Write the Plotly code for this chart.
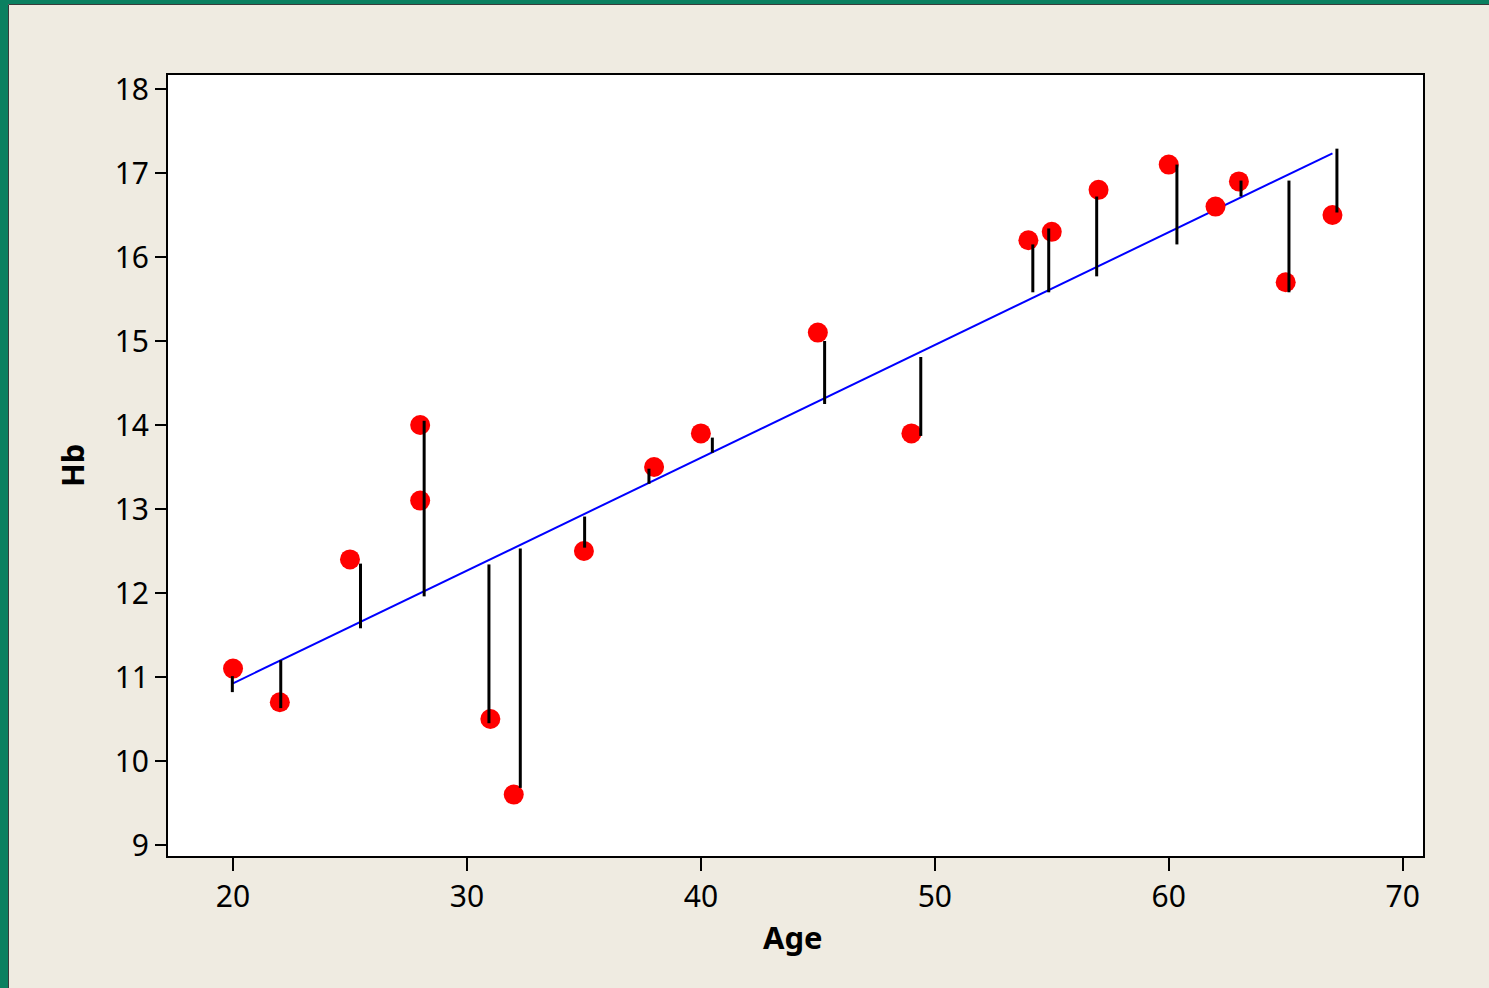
import numpy as np
import plotly.graph_objects as go

# Data
age = [20, 22, 25, 28, 28, 31, 32, 35, 38, 40, 45, 49, 54, 55, 57, 60, 62, 63, 65, 67]
hb = [11.1, 10.7, 12.4, 14.0, 13.1, 10.5, 9.6, 12.5, 13.5, 13.9, 15.1, 13.9,
      16.2, 16.3, 16.8, 17.1, 16.6, 16.9, 15.7, 16.5]

# Residual segments as drawn in the picture (x position, from, to)
res_x = [19.97, 22.04, 25.45, 28.17, 30.94, 32.28, 35.03, 37.78, 40.49, 45.29,
         49.40, 54.19, 54.87, 56.92, 60.35, 63.09, 65.14, 67.19]
res_y0 = [11.01, 11.20, 12.35, 14.05, 12.34, 12.53, 12.91, 13.48, 13.85, 15.00,
          14.81, 16.15, 16.34, 16.72, 17.10, 16.91, 16.91, 17.29]
res_y1 = [10.82, 10.63, 11.58, 11.96, 10.45, 9.68, 12.54, 13.30, 13.67, 14.25,
          13.87, 15.58, 15.58, 15.77, 16.15, 16.72, 15.58, 16.53]

x_ticks = [20, 30, 40, 50, 60, 70]
y_ticks = [9, 10, 11, 12, 13, 14, 15, 16, 17, 18]

slope, intercept = np.polyfit(age, hb, 1)
fit_x = [min(age), max(age)]
fit_y = [intercept + slope * v for v in fit_x]

seg_x, seg_y = [], []
for xv, a, b in zip(res_x, res_y0, res_y1):
    seg_x += [xv, xv, None]
    seg_y += [a, b, None]

fig = go.Figure()
fig.add_trace(go.Scatter(x=fit_x, y=fit_y, mode="lines",
                         line=dict(color="#0000FF", width=2), hoverinfo="skip"))
fig.add_trace(go.Scatter(x=age, y=hb, mode="markers",
                         marker=dict(color="#FF0000", size=20, line=dict(width=0))))
fig.add_trace(go.Scatter(x=seg_x, y=seg_y, mode="lines",
                         line=dict(color="#000000", width=3), hoverinfo="skip"))

W, H = 1489, 988
L, R, T, B = 168, 1423, 75, 856

def px(p):
    return (p - L) / (R - L)

def py(p):
    return (B - p) / (B - T)

font_family = "Noto Sans, Open Sans, DejaVu Sans, sans-serif"

fig.update_layout(
    width=W, height=H,
    margin=dict(l=L, r=W - R, t=T, b=H - B, pad=0),
    paper_bgcolor="#EFEBE1",
    plot_bgcolor="#FFFFFF",
    showlegend=False,
    font=dict(family=font_family, color="#000000", size=30),
    xaxis=dict(range=[17.22, 70.87], tickvals=x_ticks, ticks="outside", ticklen=13,
               tickwidth=2, tickcolor="#000", showgrid=False, zeroline=False,
               showline=True, linecolor="#000", linewidth=2, mirror=True,
               tickfont=dict(size=30)),
    yaxis=dict(range=[8.869, 18.167], tickvals=y_ticks, ticks="outside", ticklen=11,
               tickwidth=2, tickcolor="#000", showgrid=False, zeroline=False,
               showline=True, linecolor="#000", linewidth=2, mirror=True,
               tickfont=dict(size=30)),
    annotations=[
        dict(text="<b>Age</b>", x=px(793), y=py(937), xref="paper", yref="paper",
             xanchor="center", yanchor="middle", showarrow=False,
             font=dict(size=31, family=font_family)),
        dict(text="<b>Hb</b>", x=px(72), y=py(466), xref="paper", yref="paper",
             xanchor="center", yanchor="middle", showarrow=False, textangle=-90,
             font=dict(size=31, family=font_family)),
    ],
    shapes=[
        dict(type="rect", xref="paper", yref="paper", x0=px(0), x1=px(8), y0=py(988), y1=py(0),
             fillcolor="#0B8060", line=dict(width=0), layer="below"),
        dict(type="rect", xref="paper", yref="paper", x0=px(0), x1=px(1489), y0=py(4), y1=py(0),
             fillcolor="#0B8060", line=dict(width=0), layer="below"),
        dict(type="line", xref="paper", yref="paper", x0=px(8.5), x1=px(8.5), y0=py(988), y1=py(4.5),
             line=dict(color="#3A3A3A", width=1), layer="below"),
        dict(type="line", xref="paper", yref="paper", x0=px(8.5), x1=px(1489), y0=py(4.5), y1=py(4.5),
             line=dict(color="#3A3A3A", width=1), layer="below"),
    ],
)

fig.write_html("out.html")
